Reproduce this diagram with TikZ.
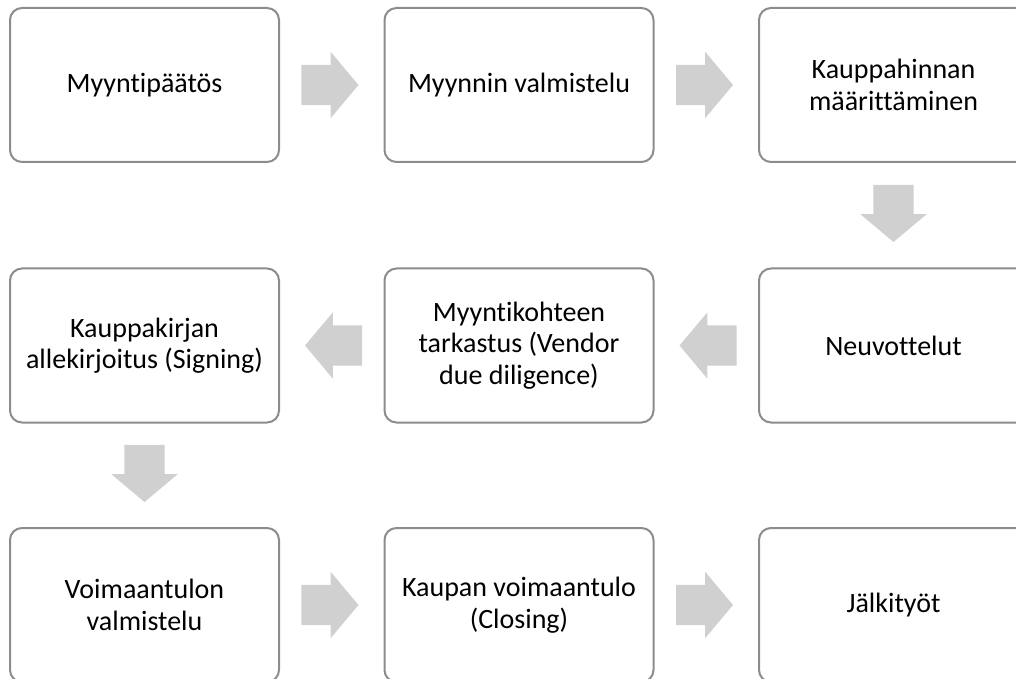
\documentclass[tikz,border=0pt]{standalone}
\usepackage{fontspec}
\setmainfont{Carlito}[Ligatures=NoCommon]
\usetikzlibrary{calc,shapes.arrows}
\definecolor{boxgray}{RGB}{140,140,140}
\definecolor{arrowgray}{RGB}{208,208,208}
\tikzset{
	stepbox/.style={draw=boxgray, line width=2pt, rounded corners=12pt, minimum width=269pt, minimum height=154pt, inner sep=0pt, align=center, font=\fontsize{28}{31.5}\selectfont},
	blockarrow/.style={single arrow, fill=arrowgray, draw=none, anchor=tip, inner xsep=0pt, inner ysep=20pt, minimum height=57pt, minimum width=66pt, single arrow head extend=13pt, single arrow tip angle=100, single arrow head indent=0pt},
	downarrow/.style={blockarrow, shape border rotate=270, inner xsep=20pt, inner ysep=0pt}
}
\begin{document}
\begin{tikzpicture}[x=1pt, y=1pt]
			%%%%% START %%%%%
			\useasboundingbox (0, 0) rectangle (1016, 678);
			\clip (0, 0) rectangle (1016, 678);
			
			% top row
			\node[stepbox] (myynti) at (144.5, 593) {Myyntipäätös};
			\node[stepbox] (valmistelu) at (519, 593) {Myynnin valmistelu};
			\node[stepbox] (hinta) at (893.5, 593) {Kauppahinnan\\määrittäminen};
			
			% middle row
			\node[stepbox] (neuvottelut) at (893.5, 332.5) {Neuvottelut};
			\node[stepbox] (tarkastus) at (519, 332.5) {Myyntikohteen\\tarkastus (Vendor\\due diligence)};
			\node[stepbox] (kauppakirja) at (144.5, 332.5) {Kauppakirjan\\allekirjoitus (Signing)};
			
			% bottom row
			\node[stepbox] (voimaantulo) at (144.5, 73) {Voimaantulon\\valmistelu};
			\node[stepbox] (closing) at (519, 73) {Kaupan voimaantulo\\(Closing)};
			\node[stepbox] (jalkityot) at (893.5, 73) {Jälkityöt};
			
			% block arrows, tip placed 27pt past the gap middle
			\node[blockarrow] (nuoli1) at ($(myynti.east)!0.5!(valmistelu.west)+(27, 0)$) {};
			\node[blockarrow] (nuoli2) at ($(valmistelu.east)!0.5!(hinta.west)+(27, 0)$) {};
			\node[downarrow] (nuoli3) at ($(hinta.south)!0.5!(neuvottelut.north)+(0, -27)$) {};
			\node[blockarrow, shape border rotate=180] (nuoli4) at ($(neuvottelut.west)!0.5!(tarkastus.east)+(-27, 0)$) {};
			\node[blockarrow, shape border rotate=180] (nuoli5) at ($(tarkastus.west)!0.5!(kauppakirja.east)+(-27, 0)$) {};
			\node[downarrow] (nuoli6) at ($(kauppakirja.south)!0.5!(voimaantulo.north)+(0, -27)$) {};
			\node[blockarrow] (nuoli7) at ($(voimaantulo.east)!0.5!(closing.west)+(27, 0)$) {};
			\node[blockarrow] (nuoli8) at ($(closing.east)!0.5!(jalkityot.west)+(27, 0)$) {};
			
			%%%%% END %%%%%
\end{tikzpicture}
\end{document}
